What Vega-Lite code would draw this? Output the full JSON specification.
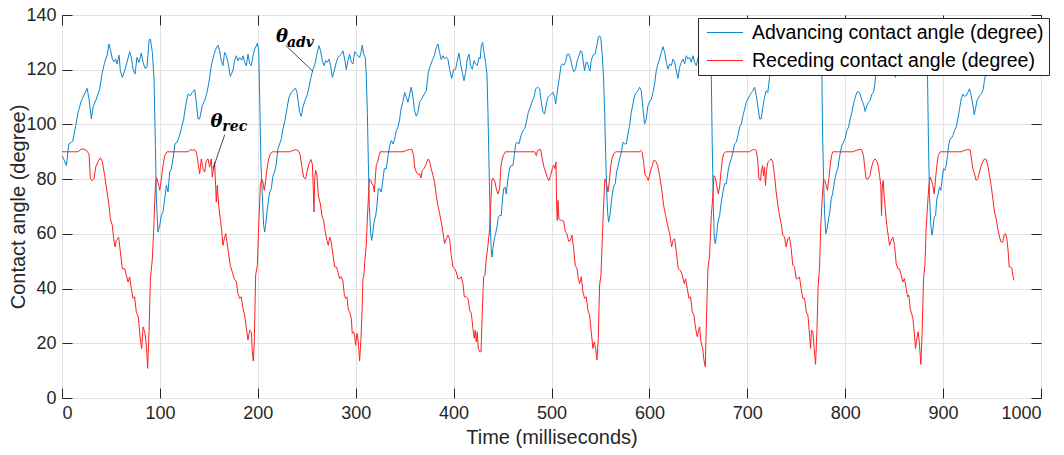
{
 "$schema": "https://vega.github.io/schema/vega-lite/v6.json",
 "width": 979,
 "height": 383,
 "autosize": {"type": "none"},
 "padding": {"left": 62, "top": 15, "right": 23, "bottom": 57},
 "background": "white",
 "config": {
  "view": {"stroke": "#262626", "strokeWidth": 1},
  "font": "Liberation Sans",
  "axis": {"labelFont": "Liberation Sans", "labelFontSize": 18, "labelColor": "#262626", "titleFont": "Liberation Sans", "titleFontSize": 20, "titleColor": "#262626", "titleFontWeight": "normal", "tickColor": "#262626", "tickSize": -10, "tickWidth": 1, "domain": false, "gridColor": "#e3e3e3", "gridOpacity": 1, "gridWidth": 1}
 },
 "datasets": {
  "adv": [{"t":0,"v":88.6},{"t":1.7,"v":87.4},{"t":4.5,"v":85},{"t":7,"v":92.9},{"t":9.6,"v":93.5},{"t":11,"v":93.9},{"t":14,"v":99.6},{"t":16.4,"v":104.4},{"t":19.8,"v":108.7},{"t":23,"v":111.1},{"t":25.6,"v":113.2},{"t":27.6,"v":109.3},{"t":30,"v":102},{"t":31.7,"v":106.3},{"t":35,"v":109.3},{"t":38.5,"v":113},{"t":41.2,"v":119},{"t":43.6,"v":122.7},{"t":46,"v":125.1},{"t":48,"v":129.4},{"t":49.4,"v":127.5},{"t":51.4,"v":123.9},{"t":53.1,"v":122.9},{"t":54.8,"v":123.9},{"t":56.2,"v":122.1},{"t":58.3,"v":125.3},{"t":59.6,"v":119.6},{"t":61.6,"v":117.2},{"t":64,"v":119.6},{"t":66.4,"v":122.7},{"t":69.1,"v":126.6},{"t":70.8,"v":124.5},{"t":72.5,"v":120.2},{"t":74.6,"v":118.4},{"t":76.6,"v":124.5},{"t":78.7,"v":122.7},{"t":81,"v":126.1},{"t":82.8,"v":122.7},{"t":84.8,"v":120.5},{"t":86.8,"v":120.9},{"t":89,"v":130.9},{"t":90.3,"v":131.2},{"t":92.3,"v":126.3},{"t":94,"v":116.6},{"t":95.4,"v":92.3},{"t":96.4,"v":72.8},{"t":98,"v":60.7},{"t":99.8,"v":63.1},{"t":101.5,"v":66.7},{"t":103.2,"v":68},{"t":104.9,"v":72.8},{"t":106.6,"v":77.7},{"t":108.3,"v":75.3},{"t":110,"v":82.6},{"t":111.7,"v":83.8},{"t":113.4,"v":87.4},{"t":115.4,"v":92.9},{"t":117.5,"v":93.5},{"t":119.5,"v":95.3},{"t":121.9,"v":98.4},{"t":124.3,"v":102},{"t":126.3,"v":106.9},{"t":128.7,"v":111.1},{"t":131.1,"v":110.5},{"t":133.1,"v":111.7},{"t":135.5,"v":112.7},{"t":137.2,"v":108.1},{"t":138.9,"v":102},{"t":140.6,"v":102},{"t":143.3,"v":106.9},{"t":145.7,"v":108.7},{"t":148.1,"v":111.7},{"t":150.1,"v":115.4},{"t":152.5,"v":121.5},{"t":154.9,"v":125.1},{"t":157,"v":127.5},{"t":159.3,"v":129},{"t":161,"v":126.9},{"t":162.7,"v":123.3},{"t":164.4,"v":121.5},{"t":166.1,"v":126.3},{"t":167.8,"v":125.3},{"t":169.5,"v":122.7},{"t":171.9,"v":117.6},{"t":174.6,"v":119.6},{"t":176.3,"v":123.3},{"t":178.1,"v":125.1},{"t":179.7,"v":123.3},{"t":181.4,"v":124.5},{"t":183.5,"v":123.5},{"t":184.9,"v":125.1},{"t":186.6,"v":122.7},{"t":188.3,"v":121.5},{"t":190,"v":125.7},{"t":191.7,"v":122.1},{"t":193.4,"v":121.5},{"t":195.1,"v":125.1},{"t":196.8,"v":127.5},{"t":198.5,"v":128.7},{"t":199.5,"v":129.7},{"t":200.9,"v":127.5},{"t":201.9,"v":110.5},{"t":203.2,"v":86.2},{"t":204.6,"v":74},{"t":206,"v":63.1},{"t":207,"v":60.7},{"t":208,"v":63.1},{"t":209.4,"v":68},{"t":210.7,"v":71.6},{"t":212.1,"v":75.3},{"t":213.8,"v":76.5},{"t":215.5,"v":81.3},{"t":217.2,"v":82.6},{"t":218.9,"v":85.6},{"t":220.6,"v":91.1},{"t":222.3,"v":92.9},{"t":224,"v":94.7},{"t":225.7,"v":98.4},{"t":227.7,"v":101.4},{"t":229.8,"v":105.7},{"t":231.8,"v":109.9},{"t":234.2,"v":111.7},{"t":236.6,"v":112.7},{"t":238.6,"v":113.2},{"t":240,"v":111.7},{"t":241.4,"v":108.1},{"t":242.7,"v":104.4},{"t":244.4,"v":103},{"t":246.1,"v":106.3},{"t":248.2,"v":108.7},{"t":250.2,"v":110.5},{"t":252.3,"v":113.6},{"t":254.3,"v":117.2},{"t":256.3,"v":120},{"t":258.4,"v":122.1},{"t":260.4,"v":125.7},{"t":262.5,"v":128.8},{"t":264.2,"v":126.9},{"t":265.9,"v":123.3},{"t":267.6,"v":121.5},{"t":269.3,"v":123.3},{"t":271,"v":122.7},{"t":272.7,"v":123.9},{"t":274.4,"v":121.5},{"t":276.1,"v":117.2},{"t":278.5,"v":120.2},{"t":280.2,"v":122.7},{"t":281.9,"v":124.5},{"t":283.6,"v":125.1},{"t":285.3,"v":125.7},{"t":287,"v":126.9},{"t":288.7,"v":123.9},{"t":290.4,"v":120},{"t":292.1,"v":123.3},{"t":293.8,"v":125.7},{"t":295.5,"v":122.7},{"t":297.2,"v":122.1},{"t":298.9,"v":126.6},{"t":300.6,"v":125.7},{"t":302.3,"v":125.1},{"t":304,"v":124.5},{"t":305.4,"v":126.3},{"t":306.7,"v":129},{"t":308.1,"v":125.7},{"t":309.8,"v":124.5},{"t":310.8,"v":117.8},{"t":311.9,"v":104.4},{"t":312.9,"v":86.2},{"t":313.9,"v":70.4},{"t":315.3,"v":60.1},{"t":316.3,"v":57.6},{"t":317.6,"v":60.7},{"t":319,"v":64.9},{"t":320.4,"v":66.5},{"t":321.7,"v":70.4},{"t":323.1,"v":76.5},{"t":324.4,"v":76.5},{"t":326.2,"v":75.3},{"t":327.9,"v":80.1},{"t":329.2,"v":83.8},{"t":331.3,"v":83.8},{"t":333,"v":88.6},{"t":334.7,"v":92.3},{"t":336.4,"v":94.1},{"t":338.1,"v":92.9},{"t":339.8,"v":94.7},{"t":341.5,"v":97.8},{"t":343.2,"v":99},{"t":344.9,"v":102},{"t":346.6,"v":106.3},{"t":348.3,"v":108.3},{"t":350,"v":111.7},{"t":351.7,"v":109.9},{"t":353.4,"v":108.1},{"t":355.1,"v":111.1},{"t":356.8,"v":113.6},{"t":358.5,"v":109.9},{"t":360.2,"v":105},{"t":361.9,"v":103},{"t":363.6,"v":104.4},{"t":365.3,"v":108.1},{"t":367.7,"v":109.5},{"t":370.1,"v":111.1},{"t":372.1,"v":112.3},{"t":374.2,"v":119},{"t":376.2,"v":121.5},{"t":378.2,"v":123.3},{"t":380.3,"v":125.1},{"t":382.3,"v":128.1},{"t":384,"v":129.4},{"t":385.7,"v":126.3},{"t":387.4,"v":123.7},{"t":389.1,"v":125.1},{"t":390.8,"v":124.1},{"t":392.5,"v":124.5},{"t":394.2,"v":123.9},{"t":395.9,"v":120.2},{"t":398,"v":116.8},{"t":400,"v":120},{"t":402.1,"v":120.2},{"t":403.8,"v":123.3},{"t":405.5,"v":126.1},{"t":407.2,"v":122.1},{"t":408.9,"v":119},{"t":410.6,"v":116},{"t":412.3,"v":119},{"t":414,"v":123.9},{"t":415.7,"v":125.7},{"t":417.4,"v":121.5},{"t":419.1,"v":120.2},{"t":420.8,"v":123.3},{"t":422.5,"v":122.1},{"t":424.2,"v":121.5},{"t":425.9,"v":124.5},{"t":427.2,"v":124},{"t":428.3,"v":128.8},{"t":429.7,"v":130},{"t":431,"v":126.3},{"t":432.7,"v":122.7},{"t":434.1,"v":118.4},{"t":435.1,"v":104.4},{"t":436.1,"v":86.2},{"t":437.2,"v":68},{"t":438.2,"v":55.8},{"t":439.2,"v":51.5},{"t":440.2,"v":54.6},{"t":441.6,"v":58.2},{"t":442.9,"v":60.1},{"t":444.3,"v":62.5},{"t":445.7,"v":66.1},{"t":447,"v":66.7},{"t":448.7,"v":66.7},{"t":449.7,"v":71.6},{"t":451.1,"v":76.5},{"t":452.5,"v":77.1},{"t":453.8,"v":74.6},{"t":455.5,"v":80.1},{"t":457.2,"v":83.8},{"t":458.9,"v":85},{"t":460.6,"v":85},{"t":462,"v":88.6},{"t":463.4,"v":92.9},{"t":464.7,"v":93.5},{"t":466.8,"v":92.9},{"t":468.8,"v":95.9},{"t":470.9,"v":97.8},{"t":472.6,"v":98.4},{"t":474.3,"v":100.8},{"t":476.3,"v":104.4},{"t":478.3,"v":106.3},{"t":480.4,"v":108.7},{"t":482.1,"v":109.9},{"t":483.8,"v":113},{"t":485.8,"v":113.6},{"t":487.9,"v":113},{"t":489.6,"v":108.1},{"t":491.3,"v":104.4},{"t":493,"v":103.8},{"t":494.7,"v":107.5},{"t":496.4,"v":109.9},{"t":498.1,"v":110.5},{"t":499.8,"v":111.1},{"t":501.5,"v":111.7},{"t":503.2,"v":109.9},{"t":504.2,"v":107.5},{"t":505.6,"v":111.1},{"t":507,"v":114.8},{"t":508.3,"v":117.8},{"t":509.7,"v":121.5},{"t":511,"v":122.1},{"t":512.7,"v":121.7},{"t":514.4,"v":122.9},{"t":516.1,"v":125.7},{"t":517.8,"v":125.7},{"t":519.5,"v":123.9},{"t":521.2,"v":120.9},{"t":522.9,"v":119.3},{"t":524.6,"v":120.2},{"t":526.3,"v":123.3},{"t":528.1,"v":125.1},{"t":529.7,"v":126.9},{"t":531.1,"v":126.6},{"t":532.5,"v":122.7},{"t":533.8,"v":119.6},{"t":535.2,"v":122.7},{"t":536.6,"v":122.7},{"t":537.9,"v":120.9},{"t":539.3,"v":119.6},{"t":540.6,"v":123.3},{"t":542.3,"v":125.3},{"t":544.4,"v":125.7},{"t":546.4,"v":128.8},{"t":547.8,"v":131.8},{"t":549.1,"v":132.4},{"t":550.5,"v":131.2},{"t":551.9,"v":125.1},{"t":553.2,"v":116.6},{"t":554.3,"v":104.4},{"t":555.3,"v":89.8},{"t":556.3,"v":76.5},{"t":557.3,"v":68},{"t":558.3,"v":64.3},{"t":559.7,"v":66.7},{"t":561.1,"v":71.6},{"t":562.4,"v":75.3},{"t":563.8,"v":77.7},{"t":565.1,"v":78.3},{"t":566.5,"v":82.6},{"t":568.2,"v":85},{"t":569.6,"v":87.5},{"t":571.3,"v":89.8},{"t":573,"v":93.5},{"t":574.7,"v":92.9},{"t":576.4,"v":92.9},{"t":578.1,"v":96.5},{"t":579.8,"v":99.6},{"t":581.5,"v":104.4},{"t":583.2,"v":107.5},{"t":584.9,"v":110.5},{"t":586.6,"v":111.7},{"t":588.3,"v":112.3},{"t":590,"v":113.6},{"t":591.7,"v":112.3},{"t":593.4,"v":105.7},{"t":595.1,"v":100.2},{"t":596.8,"v":102},{"t":598.5,"v":106.9},{"t":600.2,"v":108.3},{"t":601.9,"v":109.1},{"t":603.6,"v":111.7},{"t":605.3,"v":114.8},{"t":607,"v":119.6},{"t":608.7,"v":122.1},{"t":610.4,"v":123.9},{"t":612.2,"v":126.3},{"t":613.9,"v":128.4},{"t":615.6,"v":126.3},{"t":617.3,"v":122.7},{"t":619,"v":120.2},{"t":620.7,"v":122.1},{"t":622.4,"v":121.5},{"t":624.1,"v":123.9},{"t":625.8,"v":122.7},{"t":627.5,"v":119.6},{"t":629.2,"v":116.8},{"t":630.9,"v":120.9},{"t":632.6,"v":122.7},{"t":634.3,"v":123.9},{"t":636,"v":122.1},{"t":637.7,"v":125.1},{"t":639.4,"v":123.9},{"t":641.1,"v":124.5},{"t":642.8,"v":122.7},{"t":644.5,"v":125.1},{"t":646.2,"v":122.7},{"t":647.9,"v":121.5},{"t":649.5,"v":124},{"t":651.5,"v":127},{"t":653.5,"v":125},{"t":655.5,"v":128},{"t":657.5,"v":131},{"t":659.5,"v":130},{"t":661.5,"v":126},{"t":663.2,"v":117.8},{"t":664.2,"v":92.3},{"t":665.3,"v":70.4},{"t":666.3,"v":58.2},{"t":667.3,"v":56.4},{"t":668.7,"v":60.1},{"t":670,"v":64.3},{"t":671.7,"v":66.7},{"t":673.4,"v":71.6},{"t":675.1,"v":75.3},{"t":676.8,"v":78.3},{"t":678.5,"v":78.3},{"t":680.2,"v":82.6},{"t":681.9,"v":85.6},{"t":683.6,"v":87.4},{"t":685.3,"v":89.8},{"t":687,"v":92.9},{"t":688.7,"v":93.5},{"t":690.4,"v":95.9},{"t":692.1,"v":99},{"t":693.9,"v":100.2},{"t":695.6,"v":103.2},{"t":697.3,"v":105.7},{"t":699,"v":108.1},{"t":700.7,"v":109.3},{"t":702.4,"v":110.5},{"t":704.1,"v":111.7},{"t":705.8,"v":112.3},{"t":707.5,"v":113.6},{"t":709.2,"v":110.5},{"t":710.9,"v":106.3},{"t":712.6,"v":102},{"t":714.2,"v":102},{"t":715.9,"v":106.3},{"t":717.6,"v":109.9},{"t":719.3,"v":112.3},{"t":721,"v":111.7},{"t":722.7,"v":117.2},{"t":724.5,"v":120},{"t":726.5,"v":123},{"t":728.5,"v":126},{"t":730.5,"v":128},{"t":732.5,"v":125},{"t":734.5,"v":123},{"t":736.5,"v":124},{"t":738.5,"v":122},{"t":740.5,"v":121},{"t":742.5,"v":120},{"t":744.9,"v":118.3},{"t":747,"v":121},{"t":749,"v":124},{"t":751,"v":126},{"t":753,"v":124},{"t":755,"v":122},{"t":757,"v":125},{"t":759,"v":123},{"t":761,"v":121},{"t":763,"v":124},{"t":765,"v":126},{"t":767,"v":128},{"t":769,"v":130},{"t":771,"v":131},{"t":773,"v":129},{"t":775,"v":124},{"t":776.2,"v":117.8},{"t":776.8,"v":98.4},{"t":777.9,"v":80.1},{"t":778.9,"v":68},{"t":780.2,"v":60.1},{"t":781.6,"v":61.9},{"t":783,"v":65.5},{"t":784.3,"v":68},{"t":785.7,"v":72.8},{"t":787.1,"v":74.6},{"t":788.4,"v":77.7},{"t":789.8,"v":80.7},{"t":791.1,"v":82.6},{"t":792.5,"v":83.8},{"t":793.9,"v":87.4},{"t":795.2,"v":90.1},{"t":796.6,"v":92.3},{"t":798.3,"v":93.5},{"t":800,"v":95},{"t":801.7,"v":97.8},{"t":803.4,"v":99},{"t":805.1,"v":102},{"t":806.8,"v":104.4},{"t":808.5,"v":107.5},{"t":810.2,"v":109.9},{"t":811.9,"v":111.7},{"t":813.6,"v":112},{"t":815.3,"v":111.1},{"t":817,"v":108.7},{"t":818.7,"v":107.5},{"t":820.4,"v":104.7},{"t":822.1,"v":106.9},{"t":823.8,"v":108.1},{"t":825.5,"v":108.7},{"t":827.2,"v":111.1},{"t":828.9,"v":111.7},{"t":830.3,"v":114.8},{"t":831.3,"v":118.4},{"t":833,"v":121},{"t":835,"v":124},{"t":837,"v":126},{"t":839,"v":128},{"t":841,"v":125},{"t":843,"v":123},{"t":845,"v":125},{"t":847,"v":123},{"t":849,"v":120},{"t":851.4,"v":117.2},{"t":853,"v":120},{"t":855,"v":123},{"t":857,"v":125},{"t":859,"v":123},{"t":861,"v":122},{"t":863,"v":125},{"t":865,"v":124},{"t":867,"v":122},{"t":869,"v":124},{"t":871,"v":126},{"t":873,"v":127},{"t":875,"v":126},{"t":877,"v":128},{"t":879,"v":130},{"t":881,"v":130},{"t":883,"v":126},{"t":884.1,"v":117.8},{"t":885.1,"v":92.3},{"t":886.1,"v":74},{"t":887.5,"v":63.1},{"t":888.5,"v":59.5},{"t":889.5,"v":61.3},{"t":890.9,"v":66.1},{"t":892.3,"v":66.7},{"t":893.6,"v":72.8},{"t":895,"v":74.6},{"t":896.3,"v":77.1},{"t":897.7,"v":75.9},{"t":899.1,"v":80.1},{"t":900.4,"v":83.8},{"t":901.8,"v":83.2},{"t":903.2,"v":85},{"t":904.5,"v":88.6},{"t":905.9,"v":92.9},{"t":907.2,"v":94.7},{"t":908.6,"v":95},{"t":910,"v":95.9},{"t":911.7,"v":97.8},{"t":913.4,"v":99},{"t":915.1,"v":102},{"t":916.8,"v":105.7},{"t":918.5,"v":109.3},{"t":920.2,"v":111.1},{"t":921.9,"v":110.3},{"t":923.6,"v":110.5},{"t":925.3,"v":111.7},{"t":927,"v":113},{"t":928.7,"v":110.5},{"t":930.4,"v":107.1},{"t":931.8,"v":103.5},{"t":933.1,"v":105.7},{"t":934.5,"v":108.7},{"t":935.9,"v":109.5},{"t":937.2,"v":110.5},{"t":938.9,"v":111.1},{"t":940.6,"v":112.3},{"t":942.3,"v":116},{"t":943.4,"v":118.4},{"t":945,"v":120},{"t":947,"v":122},{"t":949,"v":125},{"t":951,"v":127},{"t":953,"v":126},{"t":955,"v":124},{"t":957,"v":122},{"t":959,"v":124},{"t":961,"v":126},{"t":963,"v":123},{"t":964.5,"v":120},{"t":966.1,"v":117.8},{"t":968,"v":121},{"t":970,"v":124},{"t":972,"v":126}],
  "rec": [{"t":0,"v":90},{"t":16.4,"v":90},{"t":18.7,"v":90.7},{"t":21.4,"v":91.1},{"t":24.9,"v":90.5},{"t":27.6,"v":89.2},{"t":29,"v":80.1},{"t":30.7,"v":79.5},{"t":32.7,"v":80.1},{"t":34.4,"v":84.4},{"t":36.8,"v":86.4},{"t":39.2,"v":87.8},{"t":41.2,"v":86.4},{"t":43.6,"v":81.3},{"t":46,"v":75.3},{"t":48,"v":70.4},{"t":49.4,"v":65.5},{"t":51.4,"v":63.1},{"t":52.8,"v":58.2},{"t":54.2,"v":55.2},{"t":55.5,"v":57.6},{"t":57.9,"v":58.8},{"t":59.6,"v":53.4},{"t":61.6,"v":47.3},{"t":64,"v":47.3},{"t":65.7,"v":44.9},{"t":67.4,"v":42.4},{"t":69.1,"v":44.3},{"t":70.8,"v":40},{"t":72.5,"v":36.4},{"t":74.2,"v":37},{"t":75.9,"v":31.5},{"t":77.9,"v":29.7},{"t":79.3,"v":24.2},{"t":80.3,"v":20.5},{"t":81.4,"v":18.1},{"t":82.8,"v":26},{"t":84.5,"v":24.2},{"t":86.2,"v":19.3},{"t":87.5,"v":10.8},{"t":88.9,"v":24.2},{"t":90.3,"v":43.6},{"t":92.3,"v":50.9},{"t":93.7,"v":61.9},{"t":95.4,"v":77.7},{"t":96.4,"v":80.7},{"t":98.1,"v":78.9},{"t":99.8,"v":75.9},{"t":101.5,"v":80.1},{"t":103.2,"v":85},{"t":104.9,"v":88.6},{"t":107.3,"v":90},{"t":128.7,"v":90},{"t":131.1,"v":90.8},{"t":133.1,"v":90.5},{"t":135.5,"v":90.8},{"t":137.2,"v":89.8},{"t":138.9,"v":86.2},{"t":140.6,"v":81.9},{"t":142.3,"v":87.4},{"t":144,"v":83.8},{"t":145.7,"v":82.6},{"t":147.4,"v":86.8},{"t":149.1,"v":87.4},{"t":150.8,"v":84.4},{"t":152.5,"v":87.4},{"t":153.5,"v":80.7},{"t":154.9,"v":83.8},{"t":155.9,"v":86.2},{"t":156.9,"v":77.7},{"t":157.6,"v":71.6},{"t":158.6,"v":77.7},{"t":160,"v":70.4},{"t":161.7,"v":65.5},{"t":163.1,"v":61.3},{"t":164.4,"v":55.8},{"t":165.8,"v":58.2},{"t":167.2,"v":60.1},{"t":168.5,"v":57},{"t":169.9,"v":53.4},{"t":171.9,"v":48.5},{"t":173.9,"v":46.1},{"t":176,"v":43.6},{"t":178.1,"v":42.4},{"t":179.7,"v":38.2},{"t":181.4,"v":36.4},{"t":183.1,"v":37},{"t":184.9,"v":32.7},{"t":186.6,"v":30.3},{"t":188.3,"v":25.4},{"t":190,"v":21.2},{"t":191.7,"v":24.8},{"t":193.4,"v":24.2},{"t":194.4,"v":16.9},{"t":195.4,"v":13.5},{"t":196.4,"v":20.5},{"t":197.8,"v":44.9},{"t":199.5,"v":48.5},{"t":200.9,"v":63.1},{"t":202.6,"v":77.7},{"t":203.9,"v":80.1},{"t":205.3,"v":78.9},{"t":206.6,"v":75.9},{"t":208,"v":79.5},{"t":209.4,"v":83.8},{"t":211.1,"v":87.4},{"t":212.8,"v":89.2},{"t":214.8,"v":90},{"t":232.5,"v":90},{"t":235.9,"v":90.5},{"t":239.3,"v":90.8},{"t":242,"v":90.1},{"t":243.4,"v":88.6},{"t":244.8,"v":85},{"t":246.8,"v":80.7},{"t":248.9,"v":80.1},{"t":250.2,"v":82.6},{"t":252.3,"v":85.6},{"t":254.3,"v":87.2},{"t":255.7,"v":85.6},{"t":256.7,"v":76.5},{"t":257.4,"v":68},{"t":258.1,"v":80.1},{"t":259.1,"v":83.2},{"t":260.4,"v":81.3},{"t":261.8,"v":74},{"t":263.9,"v":71},{"t":265.5,"v":66.7},{"t":267.2,"v":64.9},{"t":268.9,"v":60.7},{"t":270.6,"v":57.6},{"t":272,"v":55.8},{"t":273.4,"v":58.8},{"t":275.1,"v":57},{"t":276.8,"v":52.2},{"t":278.5,"v":47.9},{"t":280.2,"v":47.9},{"t":281.9,"v":46.1},{"t":283.6,"v":43.6},{"t":285.3,"v":44.3},{"t":287,"v":42.7},{"t":288.4,"v":37.6},{"t":289.7,"v":36.4},{"t":291.1,"v":37},{"t":292.5,"v":32.1},{"t":293.8,"v":31.5},{"t":295.5,"v":29.1},{"t":296.5,"v":23.6},{"t":297.9,"v":24.2},{"t":298.9,"v":23},{"t":299.9,"v":19.3},{"t":301.3,"v":23.6},{"t":302.7,"v":20.5},{"t":304,"v":13.5},{"t":305.4,"v":21.8},{"t":306.7,"v":33.9},{"t":307.4,"v":43.6},{"t":308.4,"v":44.9},{"t":309.5,"v":50.9},{"t":310.8,"v":55.8},{"t":311.9,"v":65.5},{"t":312.9,"v":72.8},{"t":313.9,"v":80.1},{"t":315.3,"v":79.5},{"t":316.6,"v":78.3},{"t":318,"v":77.7},{"t":319,"v":75.3},{"t":320,"v":80.1},{"t":321,"v":85},{"t":322.4,"v":86.2},{"t":323.8,"v":88.6},{"t":325.1,"v":90},{"t":348.3,"v":90},{"t":351.7,"v":90.5},{"t":355.1,"v":90.8},{"t":357.5,"v":90.8},{"t":359.2,"v":88.6},{"t":360.2,"v":84.4},{"t":361.9,"v":82.6},{"t":364,"v":81.6},{"t":365.3,"v":81.9},{"t":366.7,"v":80.4},{"t":368,"v":83.2},{"t":369.7,"v":83.8},{"t":371.4,"v":85},{"t":372.8,"v":86.4},{"t":374.2,"v":87.4},{"t":375.5,"v":86.4},{"t":377.2,"v":83.8},{"t":378.9,"v":81.3},{"t":380.6,"v":78.9},{"t":382.3,"v":74},{"t":384,"v":70.4},{"t":385.7,"v":67.4},{"t":387.4,"v":64.3},{"t":389.1,"v":60.7},{"t":390.8,"v":56.4},{"t":392.5,"v":58.2},{"t":394.2,"v":59.5},{"t":395.9,"v":58.2},{"t":397.6,"v":52.2},{"t":399.3,"v":47.9},{"t":401,"v":47.3},{"t":402.7,"v":46.1},{"t":404.4,"v":43.6},{"t":406.2,"v":43.6},{"t":407.9,"v":44.3},{"t":409.6,"v":41.8},{"t":410.9,"v":37},{"t":412.9,"v":37},{"t":414.7,"v":36.4},{"t":416.4,"v":32.1},{"t":418.1,"v":30.9},{"t":419.8,"v":25.4},{"t":421.1,"v":21.8},{"t":422.1,"v":24.8},{"t":423.2,"v":20.5},{"t":424.2,"v":24.2},{"t":425.2,"v":18.1},{"t":426.6,"v":16.9},{"t":428,"v":16.9},{"t":429.3,"v":31.5},{"t":430.7,"v":44.3},{"t":432,"v":44.9},{"t":433.4,"v":50.9},{"t":435.1,"v":55.8},{"t":436.8,"v":61.9},{"t":438.2,"v":72.8},{"t":439.2,"v":80.1},{"t":440.9,"v":80.1},{"t":442.3,"v":78.9},{"t":443.6,"v":76.5},{"t":445.3,"v":74.6},{"t":447,"v":76.5},{"t":448.4,"v":85},{"t":449.7,"v":87.4},{"t":451.1,"v":88.9},{"t":453.1,"v":90},{"t":482.8,"v":90},{"t":484.5,"v":88.6},{"t":485.8,"v":90.5},{"t":487.2,"v":90.8},{"t":488.9,"v":90.8},{"t":490.6,"v":87.4},{"t":492.3,"v":84.4},{"t":494,"v":82.6},{"t":495.7,"v":80.7},{"t":497.4,"v":79.5},{"t":499.1,"v":81.3},{"t":500.8,"v":83.8},{"t":502.2,"v":85.2},{"t":503.5,"v":83.8},{"t":504.6,"v":86.2},{"t":505.2,"v":71.6},{"t":505.9,"v":64.9},{"t":506.6,"v":72.2},{"t":507.6,"v":65.5},{"t":510,"v":64.9},{"t":512.4,"v":64.7},{"t":514.1,"v":60.7},{"t":515.8,"v":60.1},{"t":517.5,"v":57.3},{"t":519.2,"v":57.6},{"t":520.9,"v":59.5},{"t":522.6,"v":54.6},{"t":524.3,"v":48.5},{"t":526,"v":47.3},{"t":527.4,"v":43.6},{"t":528.7,"v":41.8},{"t":530.4,"v":44.3},{"t":532.1,"v":38.8},{"t":533.8,"v":36.4},{"t":535.5,"v":37},{"t":537.2,"v":32.1},{"t":538.9,"v":30.3},{"t":540.6,"v":24.2},{"t":542.3,"v":18.1},{"t":543.7,"v":20.5},{"t":545.1,"v":18.1},{"t":546.4,"v":13.9},{"t":547.8,"v":21.8},{"t":549.1,"v":41.2},{"t":550.5,"v":44.9},{"t":551.9,"v":58.2},{"t":553.2,"v":70.4},{"t":554.6,"v":80.1},{"t":555.9,"v":78.9},{"t":557.7,"v":75.3},{"t":559,"v":78.9},{"t":560.4,"v":84.4},{"t":561.7,"v":87.4},{"t":563.4,"v":89.2},{"t":565.5,"v":90},{"t":590,"v":90},{"t":590.7,"v":90.5},{"t":592.7,"v":89.8},{"t":594.1,"v":86.2},{"t":595.5,"v":81.6},{"t":596.8,"v":81.1},{"t":598.9,"v":79.5},{"t":600.9,"v":82.6},{"t":603,"v":85},{"t":604.3,"v":86.8},{"t":606.4,"v":86.6},{"t":608.4,"v":85},{"t":610.4,"v":81.3},{"t":612.5,"v":76.5},{"t":614.5,"v":70.4},{"t":616.6,"v":66.7},{"t":618.6,"v":63.1},{"t":620.7,"v":60.1},{"t":622.7,"v":55.2},{"t":624.1,"v":57.6},{"t":625.8,"v":58.2},{"t":627.5,"v":53.4},{"t":629.5,"v":47.3},{"t":631.6,"v":46.7},{"t":633.6,"v":44.9},{"t":635.6,"v":41.8},{"t":637,"v":43.6},{"t":638.7,"v":40},{"t":640.4,"v":36.4},{"t":642.1,"v":37},{"t":643.8,"v":31.5},{"t":645.5,"v":30.3},{"t":647.2,"v":25.4},{"t":648.9,"v":22.4},{"t":650.3,"v":24.8},{"t":651.3,"v":26},{"t":652.7,"v":20.5},{"t":654.4,"v":18.1},{"t":655.7,"v":13.9},{"t":657.1,"v":11.4},{"t":658.4,"v":30.3},{"t":659.8,"v":47.3},{"t":661.5,"v":52.2},{"t":663.2,"v":66.7},{"t":664.6,"v":72.8},{"t":665.9,"v":81.3},{"t":667.3,"v":80.7},{"t":668.7,"v":77.7},{"t":670.4,"v":74.6},{"t":671.7,"v":77.1},{"t":673.1,"v":82.6},{"t":674.4,"v":86.8},{"t":675.8,"v":89.2},{"t":677.8,"v":90},{"t":702.4,"v":90},{"t":705.1,"v":90.7},{"t":707.5,"v":90.8},{"t":709.2,"v":90.5},{"t":710.5,"v":87.4},{"t":711.9,"v":80.1},{"t":713.6,"v":79.5},{"t":714.2,"v":82.6},{"t":715.6,"v":85},{"t":716.6,"v":81.3},{"t":717.6,"v":84.4},{"t":718.6,"v":77.7},{"t":719.7,"v":83.2},{"t":721,"v":86.2},{"t":722.7,"v":86.8},{"t":724.4,"v":87.4},{"t":726.1,"v":86.2},{"t":727.8,"v":81.3},{"t":729.5,"v":75.3},{"t":731.2,"v":70.4},{"t":732.9,"v":66.7},{"t":734.6,"v":63.7},{"t":736.3,"v":59.5},{"t":738,"v":58.8},{"t":739.7,"v":55.2},{"t":741.4,"v":58.2},{"t":743.1,"v":58.8},{"t":744.8,"v":54.6},{"t":746.5,"v":48.5},{"t":748.2,"v":47.9},{"t":749.9,"v":43.6},{"t":751.6,"v":43.6},{"t":753.3,"v":44.3},{"t":755,"v":40},{"t":756.8,"v":36.4},{"t":758.5,"v":36.4},{"t":760.2,"v":31.5},{"t":761.9,"v":30.3},{"t":763.6,"v":23},{"t":764.6,"v":18.1},{"t":765.6,"v":24.8},{"t":767,"v":24.2},{"t":768.3,"v":18.1},{"t":769.7,"v":12.3},{"t":771.1,"v":24.2},{"t":772.4,"v":41.2},{"t":773.8,"v":47.9},{"t":775.1,"v":63.1},{"t":776.5,"v":72.8},{"t":777.9,"v":80.1},{"t":779.2,"v":79.5},{"t":780.6,"v":77.7},{"t":781.9,"v":75.9},{"t":783.3,"v":80.1},{"t":784.7,"v":85},{"t":786,"v":88.6},{"t":787.4,"v":90},{"t":807.8,"v":90},{"t":811.2,"v":90.5},{"t":814.6,"v":90.8},{"t":816.9,"v":90.8},{"t":818.7,"v":88.6},{"t":820.1,"v":83.8},{"t":821.4,"v":80.1},{"t":823.5,"v":80.1},{"t":825.2,"v":81.3},{"t":826.9,"v":84.4},{"t":828.6,"v":86.4},{"t":830.3,"v":87.4},{"t":832,"v":86.8},{"t":833.7,"v":85},{"t":835.1,"v":81.3},{"t":836.4,"v":77.7},{"t":837.1,"v":66.7},{"t":837.8,"v":76.5},{"t":838.8,"v":79.5},{"t":839.8,"v":74},{"t":841.2,"v":68},{"t":842.5,"v":63.1},{"t":843.9,"v":59.5},{"t":845.3,"v":55.8},{"t":847,"v":57.6},{"t":848.7,"v":58.8},{"t":850.4,"v":55.8},{"t":852.1,"v":49.1},{"t":853.8,"v":47.3},{"t":855.5,"v":47.2},{"t":857.2,"v":44.9},{"t":858.9,"v":42.4},{"t":860.6,"v":43.6},{"t":862.3,"v":40},{"t":863.7,"v":37},{"t":865,"v":37.6},{"t":866.4,"v":32.7},{"t":867.8,"v":30.9},{"t":869.1,"v":29.1},{"t":870.5,"v":24.2},{"t":871.8,"v":18.1},{"t":873.2,"v":21.8},{"t":874.6,"v":24.2},{"t":875.9,"v":19.3},{"t":877.3,"v":12.3},{"t":878.6,"v":24.2},{"t":880,"v":43.6},{"t":881.4,"v":48.5},{"t":882.7,"v":61.9},{"t":884.1,"v":70.4},{"t":885.5,"v":77.7},{"t":886.8,"v":80.7},{"t":888.2,"v":79.5},{"t":889.5,"v":77.7},{"t":890.9,"v":74.6},{"t":892.3,"v":80.1},{"t":893.6,"v":85},{"t":895,"v":88.6},{"t":897,"v":90},{"t":918.5,"v":90},{"t":921.9,"v":90.5},{"t":925.3,"v":90.8},{"t":927.7,"v":90.7},{"t":929,"v":87.4},{"t":930.4,"v":83.8},{"t":932.1,"v":81.9},{"t":933.8,"v":79.5},{"t":935.5,"v":80.1},{"t":937.2,"v":82.6},{"t":938.9,"v":85},{"t":940.6,"v":86.4},{"t":942.3,"v":87.4},{"t":944,"v":87.2},{"t":945.7,"v":85},{"t":947.4,"v":81.3},{"t":949.1,"v":77.7},{"t":950.8,"v":72.8},{"t":952.5,"v":68},{"t":954.2,"v":65.5},{"t":955.9,"v":61.9},{"t":957.6,"v":58.8},{"t":959.3,"v":57},{"t":961,"v":57},{"t":962.4,"v":59.7},{"t":963.8,"v":60.1},{"t":965.1,"v":58.2},{"t":966.5,"v":53.4},{"t":967.5,"v":47.9},{"t":968.9,"v":47.9},{"t":970.2,"v":47.3},{"t":971.2,"v":44.9},{"t":972.3,"v":43}],
  "sym": [{"t":224.7,"v":132.1,"txt":"θ"},{"t":157.7,"v":100.9,"txt":"θ"}],
  "sub": [{"t":229.8,"v":129.6,"txt":"adv"},{"t":163.8,"v":98.9,"txt":"rec"}],
  "arrows": [{"t":228.5,"v":128.9,"t2":256.3,"v2":119.4},{"t":166.2,"v":96.2,"t2":154.2,"v2":83.8}]
 },
 "layer": [
  {
   "data": {"name": "adv"},
   "mark": {"type": "line", "strokeWidth": 1, "clip": true},
   "encoding": {
    "x": {"field": "t", "type": "quantitative", "scale": {"domain": [0, 1000], "nice": false, "zero": false},
          "axis": {"orient": "bottom", "title": "Time (milliseconds)", "format": "d", "values": [0,100,200,300,400,500,600,700,800,900,1000], "labelPadding": 16, "titlePadding": 5, "grid": true}},
    "y": {"field": "v", "type": "quantitative", "scale": {"domain": [0, 140], "nice": false, "zero": false},
          "axis": {"orient": "left", "title": "Contact angle (degree)", "format": "d", "values": [0,20,40,60,80,100,120,140], "labelPadding": 16, "titlePadding": -3, "grid": true}},
    "color": {"datum": "Advancing contact angle (degree)", "type": "nominal",
              "scale": {"domain": ["Advancing contact angle (degree)", "Receding contact angle (degree)"], "range": ["#0b86cf", "#ff2020"]},
              "legend": {"orient": "none", "legendX": 636, "legendY": 3, "title": null, "fillColor": "white", "strokeColor": "#262626", "padding": 5, "symbolType": "stroke", "symbolSize": 1296, "symbolStrokeWidth": 1.2, "symbolOffset": 3, "clipHeight": 19, "labelFont": "Liberation Sans", "labelFontSize": 19.5, "labelColor": "#000000", "labelOffset": 8, "rowPadding": 8, "labelLimit": 400}}
   }
  },
  {
   "data": {"name": "rec"},
   "mark": {"type": "line", "strokeWidth": 1, "clip": true},
   "encoding": {
    "x": {"field": "t", "type": "quantitative", "axis": {"orient": "top", "labels": false, "title": null, "grid": false, "values": [0,100,200,300,400,500,600,700,800,900,1000]}},
    "y": {"field": "v", "type": "quantitative", "axis": {"orient": "right", "labels": false, "title": null, "grid": false, "values": [0,20,40,60,80,100,120,140]}},
    "color": {"datum": "Receding contact angle (degree)", "type": "nominal"}
   }
  },
  {
   "data": {"name": "arrows"},
   "mark": {"type": "rule", "color": "#1a1a1a", "strokeWidth": 0.8},
   "encoding": {
    "x": {"field": "t", "type": "quantitative", "axis": null},
    "y": {"field": "v", "type": "quantitative", "axis": null},
    "x2": {"field": "t2"},
    "y2": {"field": "v2"}
   }
  },
  {
   "data": {"name": "sym"},
   "mark": {"type": "text", "font": "DejaVu Serif", "fontWeight": "bold", "fontStyle": "italic", "fontSize": 18, "align": "center", "baseline": "middle", "color": "#000000"},
   "encoding": {
    "x": {"field": "t", "type": "quantitative", "axis": null},
    "y": {"field": "v", "type": "quantitative", "axis": null},
    "text": {"field": "txt"}
   }
  },
  {
   "data": {"name": "sub"},
   "mark": {"type": "text", "font": "DejaVu Serif", "fontWeight": "bold", "fontStyle": "italic", "fontSize": 14, "align": "left", "baseline": "middle", "color": "#000000"},
   "encoding": {
    "x": {"field": "t", "type": "quantitative", "axis": null},
    "y": {"field": "v", "type": "quantitative", "axis": null},
    "text": {"field": "txt"}
   }
  }
 ],
 "resolve": {"axis": {"x": "independent", "y": "independent"}}
}
